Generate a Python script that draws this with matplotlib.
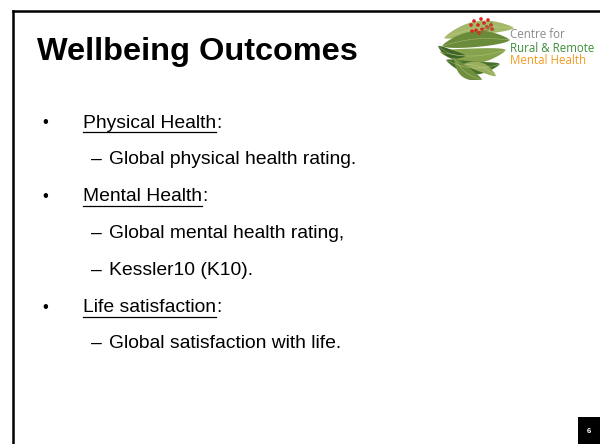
import matplotlib
matplotlib.use("Agg")
import numpy as np
import matplotlib.pyplot as plt
from matplotlib.patches import Circle, Rectangle, Polygon
from matplotlib.lines import Line2D

W, H = 600, 444
title = "Wellbeing Outcomes"
bullets = ["Physical Health", "Mental Health", "Life satisfaction"]
subitems = [["Global physical health rating."],
            ["Global mental health rating,", "Kessler10 (K10)."],
            ["Global satisfaction with life."]]
logo_lines = ["Centre for", "Rural & Remote", "Mental Health"]
logo_colors = ["#8a8a8a", "#3f8f3a", "#f39a1e"]
page_number = "6"

plt.rcParams['font.family'] = ['Liberation Sans', 'DejaVu Sans']
fig = plt.figure(figsize=(W / 100, H / 100), dpi=100)
fig.patch.set_facecolor('white')

def fx(x):
    return x / W

def fy(y):
    return 1 - y / H

# Border (top and left lines)
fig.add_artist(Line2D([fx(13), fx(600)], [fy(11), fy(11)], color='black', lw=1.8))
fig.add_artist(Line2D([fx(13), fx(13)], [fy(11), fy(444)], color='black', lw=1.8))

# Title
fig.text(fx(37), fy(60), title, fontsize=23.4, fontweight='bold', va='baseline', ha='left')

# Bullets
renderer = fig.canvas.get_renderer()
y = 123
step = 36.8
fs = 13.85
for b, subs in zip(bullets, subitems):
    fig.text(fx(42), fy(y), "\u2022", fontsize=12, va='center', ha='left')
    t = fig.text(fx(83), fy(y), b, fontsize=fs, va='center', ha='left')
    bb = t.get_window_extent(renderer=renderer)
    fig.text(bb.x1 / W, fy(y), ":", fontsize=fs, va='center', ha='left')
    uy = fy(y + 9.5)
    fig.add_artist(Line2D([bb.x0 / W, bb.x1 / W], [uy, uy], color='black', lw=0.9))
    y += step
    for s in subs:
        fig.text(fx(91), fy(y), "\u2013", fontsize=fs, va='center', ha='left')
        fig.text(fx(109), fy(y), s, fontsize=fs, va='center', ha='left')
        y += step

# Page number box
fig.add_artist(Rectangle((fx(578), fy(444)), fx(22), 27 / H, facecolor='black',
                         edgecolor='none', transform=fig.transFigure))
fig.text(fx(589), fy(431), page_number, fontsize=5.5, fontweight='bold', color='white',
         ha='center', va='center')

# Logo leaves (local pixel coords, origin at (436, 16))
ax = fig.add_axes([fx(436), fy(80), fx(80), 64 / H])
ax.set_xlim(0, 80)
ax.set_ylim(64, 0)
ax.axis('off')

def leaf(p0, p1, width, bend, color):
    p0 = np.array(p0, float); p1 = np.array(p1, float)
    t = np.linspace(0, 1, 30)
    d = p1 - p0
    n = np.array([-d[1], d[0]]) / np.hypot(*d)
    mid = p0[None, :] + t[:, None] * d[None, :] + (bend * np.sin(np.pi * t))[:, None] * n[None, :]
    half = width / 2 * np.sin(np.pi * t) ** 0.7
    top = mid + half[:, None] * n[None, :]
    bot = mid - half[:, None] * n[None, :]
    pts = np.vstack([top, bot[::-1]])
    ax.add_patch(Polygon(pts, closed=True, facecolor=color, edgecolor='none'))
    ax.plot(mid[:, 0], mid[:, 1], color='#c9d79a', lw=0.4, alpha=0.6)

leaf((8, 22), (78, 12), 14, -5, '#a4b86a')
leaf((6, 30), (74, 24), 16, -4, '#6a8c3a')
leaf((4, 36), (70, 34), 15, 5, '#86a24c')
leaf((10, 44), (64, 48), 13, 6, '#47702c')
leaf((18, 42), (46, 64), 11, 4, '#6f8f3e')
leaf((28, 48), (60, 60), 9, -3, '#98ae5c')
leaf((2, 30), (30, 40), 8, 3, '#3e6526')
# stems
ax.plot([40, 52, 56], [18, 14, 6], color='#8a6b3a', lw=0.6)
ax.plot([46, 50, 58], [16, 10, 14], color='#8a6b3a', lw=0.6)
berries = [(35, 9), (38, 5), (42, 9), (45, 3), (48, 7), (52, 4), (55, 9), (40, 14),
           (46, 13), (51, 11), (36, 15), (43, 17), (56, 13)]
for bx, by in berries:
    ax.add_patch(Circle((bx, by), 1.8, facecolor='#d9261c', edgecolor='none'))

# Logo text
for txt, col, yy in zip(logo_lines, logo_colors, [35, 48, 60]):
    fig.text(fx(510), fy(yy), txt, fontsize=8.3, color=col, family=['Open Sans', 'DejaVu Sans'],
             ha='left', va='center')

fig.savefig("out.png", dpi=100)
